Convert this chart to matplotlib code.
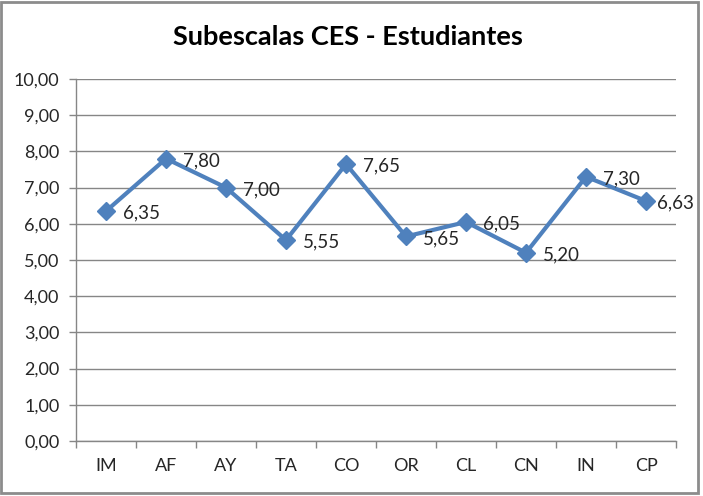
import matplotlib
matplotlib.use("Agg")
import matplotlib.pyplot as plt
from matplotlib.patches import Rectangle

categories = ["IM", "AF", "AY", "TA", "CO", "OR", "CL", "CN", "IN", "CP"]
values = [6.35, 7.80, 7.00, 5.55, 7.65, 5.65, 6.05, 5.20, 7.30, 6.63]
yticks = [0, 1, 2, 3, 4, 5, 6, 7, 8, 9, 10]
title = "Subescalas CES - Estudiantes"

plt.rcParams['font.family'] = ['Lato', 'DejaVu Sans']

fig = plt.figure(figsize=(7.03, 4.96), dpi=100)
ax = fig.add_axes([76/703, 55/496, 600/703, 362/496])

x = list(range(len(categories)))
ax.plot(x, values, color="#4F81BD", lw=3, marker="D", markersize=9,
        markerfacecolor="#4F81BD", markeredgecolor="#4F81BD", zorder=3)

for i, v in enumerate(values):
    dx = 11 if i == len(values) - 1 else 17
    ax.annotate(f"{v:.2f}".replace(".", ","), (i, v), xytext=(dx, -2),
                textcoords="offset pixels", ha="left", va="center",
                fontsize=13.5, color="#262626", zorder=4)

ax.set_xlim(-0.5, len(categories) - 0.5)
ax.set_ylim(0, 10)
ax.set_yticks(yticks)
ax.set_yticklabels([f"{t:.2f}".replace(".", ",") for t in yticks])
ax.set_xticks(x)
ax.set_xticklabels(categories)
ax.set_xticks([i - 0.5 for i in range(len(categories) + 1)], minor=True)
ax.tick_params(axis="x", which="major", length=0, pad=12, labelsize=13, colors="#262626")
ax.tick_params(axis="x", which="minor", length=5, color="#868686", width=1)
ax.tick_params(axis="y", length=5, color="#868686", width=1, labelsize=13,
               colors="#262626", pad=7)
ax.yaxis.grid(True, color="#868686", lw=1)
ax.set_axisbelow(True)
for s in ["top", "right"]:
    ax.spines[s].set_visible(False)
for s in ["left", "bottom"]:
    ax.spines[s].set_color("#868686")
    ax.spines[s].set_linewidth(1)

fig.text(348/703, 1 - 37/496, title, ha="center", va="center",
         fontsize=19.5, fontweight="bold", color="#000000")

fig.patches.append(Rectangle((1/703, 3/496), 697/703, 491/496, transform=fig.transFigure,
                             fill=False, edgecolor="#8C8C8C", lw=2))

fig.savefig("out.png", dpi=100)
